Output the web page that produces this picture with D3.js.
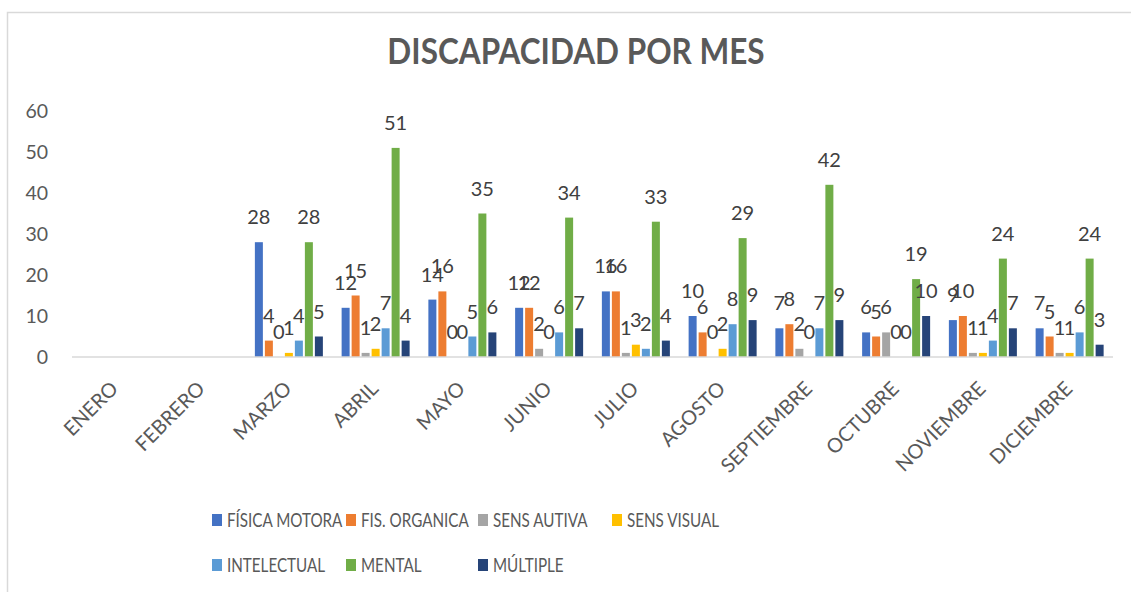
<!DOCTYPE html>
<html lang="es">
<head>
    <meta charset="utf-8" />
    <title>Discapacidad por mes</title>
    <script src="https://cdn.jsdelivr.net/npm/d3@7"></script>
    <style>
        body { margin: 0; background: #fff; }
        text { font-family: Lato, "Open Sans", sans-serif; }
    </style>
</head>
<body>
    <div id="chart"></div>
    <script>
        // data; ENERO and FEBRERO have no values
        const months = ['ENERO', 'FEBRERO', 'MARZO', 'ABRIL', 'MAYO', 'JUNIO', 'JULIO',
            'AGOSTO', 'SEPTIEMBRE', 'OCTUBRE', 'NOVIEMBRE', 'DICIEMBRE'];
        const seriesNames = ['FÍSICA MOTORA', 'FIS. ORGANICA', 'SENS AUTIVA', 'SENS VISUAL',
            'INTELECTUAL', 'MENTAL', 'MÚLTIPLE'];
        const fisicaMotora = [null, null, 28, 12, 14, 12, 16, 10, 7, 6, 9, 7];
        const fisOrganica  = [null, null, 4, 15, 16, 12, 16, 6, 8, 5, 10, 5];
        const sensAutiva   = [null, null, 0, 1, 0, 2, 1, 0, 2, 6, 1, 1];
        const sensVisual   = [null, null, 1, 2, 0, 0, 3, 2, 0, 0, 1, 1];
        const intelectual  = [null, null, 4, 7, 5, 6, 2, 8, 7, 0, 4, 6];
        const mental       = [null, null, 28, 51, 35, 34, 33, 29, 42, 19, 24, 24];
        const multiple     = [null, null, 5, 4, 6, 7, 4, 9, 9, 10, 7, 3];
        const yTicks = [0, 10, 20, 30, 40, 50, 60];
        const colors = ['#4472C4', '#ED7D31', '#A5A5A5', '#FFC000', '#5B9BD5', '#70AD47', '#264478'];

        const allSeries = [fisicaMotora, fisOrganica, sensAutiva, sensVisual, intelectual, mental, multiple];

        const width = 1131, height = 592;
        const plot = {left: 72, right: 1113, top: 111, bottom: 357};

        const svg = d3.select('#chart').append('svg')
            .attr('width', width)
            .attr('height', height);

        // chart frame (only top and left edges fall inside the picture)
        svg.append('rect')
            .attr('x', 7.5).attr('y', 12.5)
            .attr('width', 1300).attr('height', 700)
            .attr('fill', 'none')
            .attr('stroke', '#d9d9d9')
            .attr('stroke-width', 1.5);

        svg.append('text')
            .attr('transform', 'translate(576,64) scale(1,1.12)')
            .attr('text-anchor', 'middle')
            .style('font-size', '31.5px')
            .style('font-weight', 700)
            .style('fill', '#595959')
            .text('DISCAPACIDAD POR MES');

        const x0 = d3.scaleBand().domain(months).range([plot.left, plot.right]);
        const groupW = 70 / 86.75 * x0.bandwidth();
        const off = (x0.bandwidth() - groupW) / 2;
        const x1 = d3.scaleBand().domain(d3.range(seriesNames.length))
            .range([off, off + groupW]).paddingInner(0.2).paddingOuter(0.1);
        const y = d3.scaleLinear().domain([0, 60]).range([plot.bottom, plot.top]);

        // y tick labels
        svg.append('g').selectAll('text')
            .data(yTicks)
            .enter().append('text')
            .attr('x', 48)
            .attr('y', d => y(d))
            .attr('dy', '0.36em')
            .attr('text-anchor', 'end')
            .style('font-size', '19.5px')
            .style('fill', '#595959')
            .text(d => d);

        const cells = [];
        allSeries.forEach((vals, si) => {
            vals.forEach((v, mi) => {
                if (v !== null) cells.push({s: si, m: months[mi], v: v});
            });
        });

        svg.append('g').selectAll('rect')
            .data(cells)
            .enter().append('rect')
            .attr('x', d => x0(d.m) + x1(d.s))
            .attr('y', d => y(d.v))
            .attr('width', x1.bandwidth())
            .attr('height', d => y(0) - y(d.v))
            .attr('fill', d => colors[d.s]);

        // axis line
        svg.append('line')
            .attr('x1', plot.left).attr('x2', plot.right)
            .attr('y1', y(0)).attr('y2', y(0))
            .attr('stroke', '#d9d9d9')
            .attr('stroke-width', 1.5);

        // data labels
        svg.append('g').selectAll('text')
            .data(cells)
            .enter().append('text')
            .attr('x', d => x0(d.m) + x1(d.s) + x1.bandwidth() / 2)
            .attr('y', d => y(d.v) - 18)
            .attr('text-anchor', 'middle')
            .style('font-size', '20px')
            .style('fill', '#404040')
            .text(d => d.v);

        // x labels, rotated
        svg.append('g').selectAll('text')
            .data(months)
            .enter().append('text')
            .attr('transform', d => 'translate(' + (x0(d) + x0.bandwidth() / 2 + 4) + ',' + 390 + ') rotate(-45)')
            .attr('text-anchor', 'end')
            .style('font-size', '20px')
            .style('fill', '#595959')
            .text(d => d);

        // legend
        const legendPos = [[212, 520], [346, 520], [478, 520], [612, 520],
            [212, 565], [346, 565], [478, 565]];
        const legend = svg.selectAll('.legend')
            .data(seriesNames)
            .enter().append('g')
            .attr('class', 'legend')
            .attr('transform', (d, i) => 'translate(' + legendPos[i][0] + ',' + legendPos[i][1] + ')');
        legend.append('rect')
            .attr('x', 0).attr('y', -6)
            .attr('width', 10).attr('height', 12)
            .attr('fill', (d, i) => colors[i]);
        legend.append('text')
            .attr('transform', 'translate(15,0) scale(0.78,1)')
            .attr('dy', '0.36em')
            .style('font-size', '19.5px')
            .style('fill', '#595959')
            .text(d => d);
    </script>
</body>
</html>
